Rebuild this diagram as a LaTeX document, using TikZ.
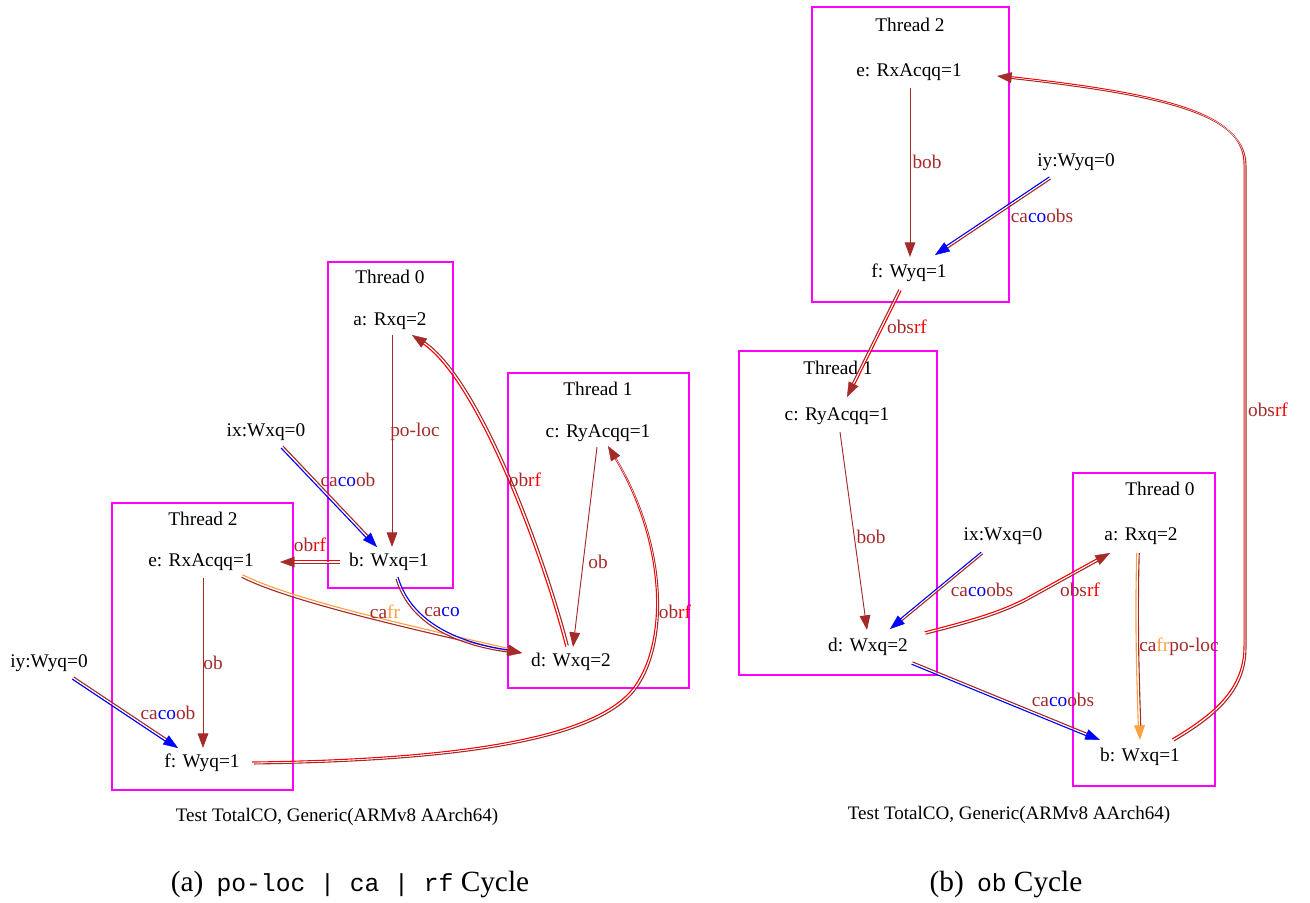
\documentclass[tikz,border=0pt]{standalone}
\usepackage{fontspec}
\setmainfont{Liberation Serif}
\setmonofont{Liberation Mono}
\usetikzlibrary{arrows.meta}
\definecolor{gbrown}{HTML}{A52A2A}
\definecolor{gorange}{HTML}{FFA040}
\definecolor{gmag}{HTML}{FF00FF}
\definecolor{gblue}{HTML}{0000FF}
\definecolor{gred}{HTML}{FF0000}
\newcommand\clBr[1]{\textcolor{gbrown}{#1}}
\newcommand\clBl[1]{\textcolor{gblue}{#1}}
\newcommand\clRd[1]{\textcolor{gred}{#1}}
\newcommand\clOr[1]{\textcolor{gorange}{#1}}
\tikzset{
  ev/.style={font=\fontsize{14.5}{16}\selectfont, inner sep=0pt},
  lab/.style={font=\fontsize{14.5}{16}\selectfont, inner sep=0pt, text=gbrown},
  tbox/.style={draw=gmag, line width=1pt},
  eline/.style={line width=0.85pt},
  sline/.style={line width=0.7pt},
  tipb/.style={-{Triangle[length=11pt,width=8pt]}},
  testcap/.style={font=\fontsize{14.3}{16}\selectfont, inner sep=0pt},
  subcap/.style={font=\fontsize{22}{26}\selectfont, inner sep=0pt},
}
% double (two-colour) edge: colA, shift x, shift y, colB, tip colour, path
\newcommand\dedge[6]{%
  \draw[eline,#1,shorten >=10pt,transform canvas={shift={({1.35*(#2)},{1.35*(#3)})}}] #6;
  \draw[eline,#4,shorten >=10pt,transform canvas={shift={({-1.35*(#2)},{-1.35*(#3)})}}] #6;
  \draw[white,line width=0.3pt,-{Triangle[length=11pt,width=8pt,color=#5]}] #6;
}
\begin{document}
\begin{tikzpicture}[x=0.75pt,y=-0.75pt]
\useasboundingbox (0,0) rectangle (1310,903);

% ================= LEFT DIAGRAM =================
\draw[tbox] (328,262) rectangle (453,588);
\draw[tbox] (508,373) rectangle (689,688);
\draw[tbox] (112,503) rectangle (293,790);
\node[ev] (lt0) at (390,277) {Thread 0};
\node[ev] (lt1) at (598,389) {Thread 1};
\node[ev] (lt2) at (203,519) {Thread 2};

\node[ev] (a) at (390,321) {a: Rxq=2};
\node[ev] (b) at (389,562) {b: Wxq=1};
\node[ev] (c) at (598,433) {c: RyAcqq=1};
\node[ev] (d) at (571,662) {d: Wxq=2};
\node[ev] (e) at (201,562) {e: RxAcqq=1};
\node[ev] (f) at (202,763) {f: Wyq=1};
\node[ev] (ix) at (266,432) {ix:Wxq=0};
\node[ev] (iy) at (49,663) {iy:Wyq=0};

% single edges
\draw[sline,gbrown,tipb] ([shift={(2,14)}]a.center) -- ([shift={(3,-15)}]b.center);
\draw[sline,gbrown,tipb] ([shift={(2,16)}]e.center) -- ([shift={(1,-15)}]f.center);
\draw[sline,gbrown,tipb] ([shift={(-1,14)}]c.center) -- ([shift={(2,-15)}]d.center);
% double edges
\dedge{gbrown}{0.7}{-0.7}{gblue}{gblue}{([shift={(16,15)}]ix.center) -- ([shift={(-12,-15)}]b.center)}
\dedge{gred}{0}{-1}{gbrown}{gbrown}{([shift={(-49,0)}]b.center) -- ([shift={(79,0)}]e.center)}
\dedge{gbrown}{0.55}{-0.8}{gblue}{gblue}{([shift={(24,15)}]iy.center) -- ([shift={(-24,-15)}]f.center)}
\dedge{gorange}{0.3}{-0.95}{gbrown}{gbrown}{([shift={(41,14)}]e.center) .. controls (290,600) and (400,625) .. ([shift={(-49,-9)}]d.center)}
\dedge{gblue}{0.7}{-0.7}{gbrown}{gbrown}{([shift={(8,16)}]b.center) .. controls (405,605) and (430,640) .. ([shift={(-49,-9)}]d.center)}
\dedge{gred}{-0.9}{0.45}{gbrown}{gbrown}{([shift={(-4,-16)}]d.center) .. controls (545,560) and (480,380) .. ([shift={(22,14)}]a.center)}
\dedge{gred}{-0.7}{-0.7}{gbrown}{gbrown}{([shift={(51,0)}]f.center) .. controls (480,760) and (600,735) .. (635,688) .. controls (670,640) and (665,540) .. ([shift={(10,13)}]c.center)}

% labels
\node[lab] (l1) at (415,432) {po-loc};
\node[lab] (l2) at (348,480) {\clBr{ca}\clBl{co}\clBr{ob}};
\node[lab] (l3) at (310,545) {\clBr{ob}\clRd{rf}};
\node[lab] (l4) at (213,663) {ob};
\node[lab] (l5) at (168,713) {\clBr{ca}\clBl{co}\clBr{ob}};
\node[lab] (l6) at (385,612) {\clBr{ca}\clOr{fr}};
\node[lab] (l7) at (442,612) {\clBr{ca}\clBl{co}};
\node[lab] (l8) at (525,480) {\clBr{ob}\clRd{rf}};
\node[lab] (l9) at (598,562) {ob};
\node[lab] (l10) at (675,612) {\clBr{ob}\clRd{rf}};

\node[testcap] (capL) at (337,817) {Test TotalCO, Generic(ARMv8 AArch64)};
\node[subcap] (subA) at (350,884) {(a)\hspace{0.45em}{\ttfamily\fontsize{18.5}{22}\selectfont po-loc | ca | rf} Cycle};

% ================= RIGHT DIAGRAM =================
\draw[tbox] (812,7) rectangle (1009,302);
\draw[tbox] (739,351) rectangle (937,675);
\draw[tbox] (1073,473) rectangle (1215,786);
\node[ev] (rt2) at (910,25) {Thread 2};
\node[ev] (rt1) at (838,368) {Thread 1};
\node[ev] (rt0) at (1160,489) {Thread 0};

\node[ev] (e2) at (909,72) {e: RxAcqq=1};
\node[ev] (f2) at (909,273) {f: Wyq=1};
\node[ev] (iy2) at (1076,162) {iy:Wyq=0};
\node[ev] (c2) at (837,416) {c: RyAcqq=1};
\node[ev] (d2) at (868,647) {d: Wxq=2};
\node[ev] (ix2) at (1003,536) {ix:Wxq=0};
\node[ev] (a2) at (1141,536) {a: Rxq=2};
\node[ev] (b2) at (1140,757) {b: Wxq=1};

\draw[sline,gbrown,tipb] ([shift={(1,16)}]e2.center) -- ([shift={(1,-16)}]f2.center);
\draw[sline,gbrown,tipb] ([shift={(3,16)}]c2.center) -- ([shift={(-1,-17)}]d2.center);
\dedge{gbrown}{0.5}{0.75}{gblue}{gblue}{([shift={(-26,16)}]iy2.center) -- ([shift={(26,-18)}]f2.center)}
\dedge{gred}{0.8}{0.4}{gbrown}{gbrown}{([shift={(-9,17)}]f2.center) -- ([shift={(10,-19)}]c2.center)}
\dedge{gbrown}{0.55}{0.65}{gblue}{gblue}{([shift={(-21,17)}]ix2.center) -- ([shift={(22,-18)}]d2.center)}
\dedge{gred}{-0.35}{-0.85}{gbrown}{gbrown}{([shift={(57,-14)}]d2.center) .. controls (985,618) and (1005,610) .. (1025,600) -- ([shift={(-31,17)}]a2.center)}
\dedge{gbrown}{0.35}{-0.85}{gblue}{gblue}{([shift={(44,16)}]d2.center) -- ([shift={(-40,-17)}]b2.center)}
\dedge{gorange}{-0.9}{0}{gbrown}{gorange}{([shift={(-3,17)}]a2.center) .. controls (1136,620) and (1138,680) .. ([shift={(0,-17)}]b2.center)}
\dedge{gred}{-0.7}{-0.7}{gbrown}{gbrown}{([shift={(33,-17)}]b2.center) .. controls (1215,715) and (1245,690) .. (1245,647) -- (1245,165) .. controls (1245,115) and (1170,95) .. ([shift={(88,4)}]e2.center)}

\node[lab] (r1) at (927,162) {bob};
\node[lab] (r2) at (1042,216) {\clBr{ca}\clBl{co}\clBr{obs}};
\node[lab] (r3) at (907,327) {\clBr{obs}\clRd{rf}};
\node[lab] (r4) at (871,537) {bob};
\node[lab] (r5) at (982,590) {\clBr{ca}\clBl{co}\clBr{obs}};
\node[lab] (r6) at (1080,590) {\clBr{obs}\clRd{rf}};
\node[lab] (r7) at (1063,700) {\clBr{ca}\clBl{co}\clBr{obs}};
\node[lab] (r8) at (1179,647) {\clBr{ca}\clOr{fr}\clBr{po-loc}};
\node[lab] (r9) at (1268,410) {\clBr{obs}\clRd{rf}};

\node[testcap] (capR) at (1009,815) {Test TotalCO, Generic(ARMv8 AArch64)};
\node[subcap] (subB) at (1006,884) {(b)\hspace{0.45em}{\ttfamily\fontsize{18.5}{22}\selectfont ob} Cycle};
\end{tikzpicture}
\end{document}
